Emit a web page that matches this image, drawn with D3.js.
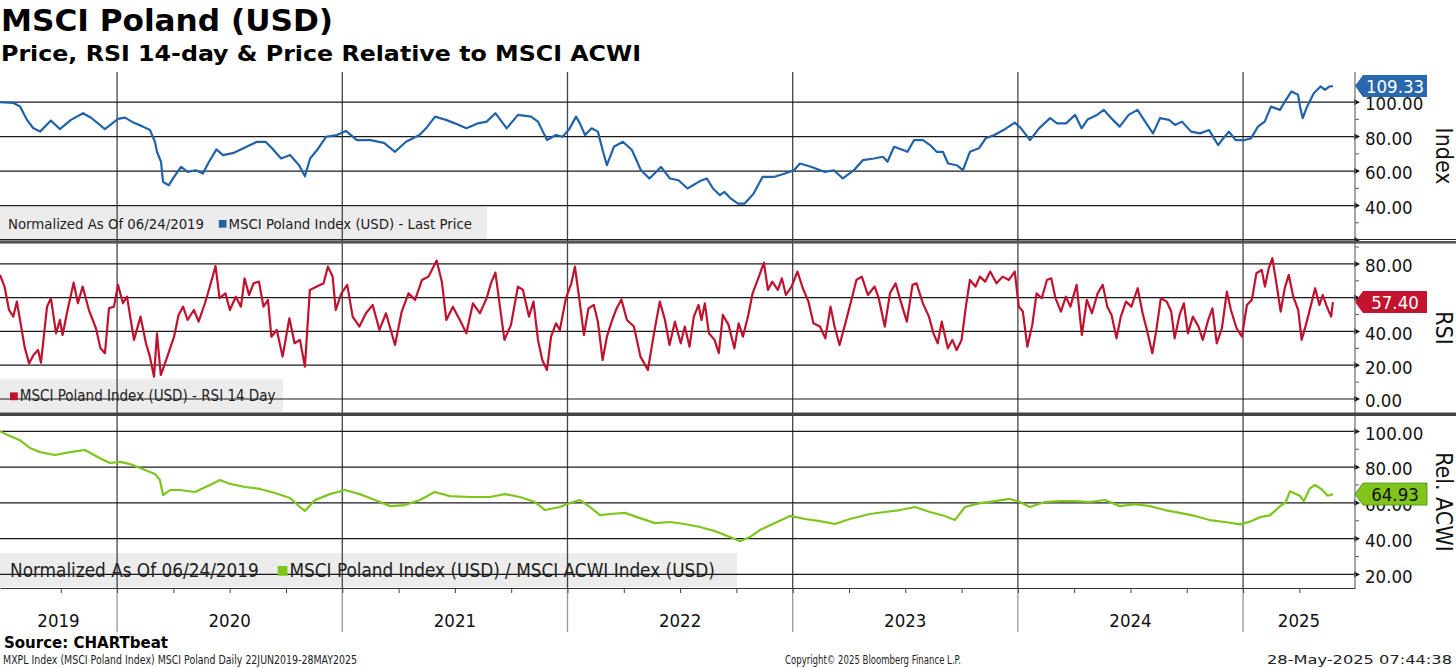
<!DOCTYPE html>
<html>
<head>
<meta charset="utf-8">
<script src="https://d3js.org/d3.v7.min.js"></script>
<style>
  body { margin: 0; background: #fff; }
  svg { display: block; }
  text { font-family: "DejaVu Sans Condensed", "DejaVu Sans", sans-serif; }
</style>
</head>
<body>
<svg id="chart" width="1456" height="668"></svg>
<script>
// time is in decimal years
var price = [
  [2019.480,100],[2019.538,99.6],[2019.569,97.5],[2019.600,89.7],[2019.627,85],[2019.658,82.9],
  [2019.706,89.3],[2019.746,84.4],[2019.795,89.7],[2019.849,93.6],[2019.886,90.8],[2019.946,84.4],
  [2020.004,90.3],[2020.035,91],[2020.075,88],[2020.115,85.8],[2020.146,83.8],[2020.168,77],
  [2020.177,71.2],[2020.195,65.4],[2020.204,53.7],[2020.230,51.8],[2020.253,56.6],[2020.284,62.4],
  [2020.313,59.5],[2020.350,60.5],[2020.381,58.6],[2020.404,64.4],[2020.441,72.6],[2020.470,69.3],
  [2020.519,70.6],[2020.570,73.8],[2020.621,77],[2020.659,77],[2020.688,73.2],[2020.728,67.3],
  [2020.768,69.3],[2020.808,63.4],[2020.834,57],[2020.857,67.3],[2020.888,72.2],[2020.928,79.9],
  [2020.976,80.9],[2021.016,83.3],[2021.065,78],[2021.125,78],[2021.185,76.4],[2021.234,71.2],
  [2021.283,77],[2021.343,80.9],[2021.372,84.8],[2021.412,91.6],[2021.460,89.7],[2021.500,87.7],
  [2021.551,84.8],[2021.603,87.7],[2021.641,88.7],[2021.680,93.6],[2021.730,84.8],[2021.780,92.6],
  [2021.838,91.6],[2021.869,88.7],[2021.909,78],[2021.949,80.9],[2021.978,79.9],[2022.007,84.2],
  [2022.038,91.6],[2022.055,87.7],[2022.078,80.9],[2022.107,84.8],[2022.135,82.9],[2022.158,71.2],
  [2022.175,63.4],[2022.206,74.1],[2022.246,77],[2022.286,72.2],[2022.326,60.5],[2022.364,55.7],
  [2022.415,62.4],[2022.455,55.7],[2022.493,54.7],[2022.533,49.9],[2022.588,54.2],[2022.619,55.7],
  [2022.646,49.9],[2022.677,46],[2022.697,47.9],[2022.726,44],[2022.757,41.1],[2022.786,41.1],
  [2022.826,46.9],[2022.866,56.6],[2022.916,56.6],[2022.966,58.6],[2023.006,60.5],[2023.032,64.4],
  [2023.084,62.4],[2023.143,59.5],[2023.183,60.5],[2023.223,55.7],[2023.272,60.5],[2023.312,66.4],
  [2023.361,67.3],[2023.401,68.3],[2023.421,65.4],[2023.450,74.1],[2023.490,72.2],[2023.510,71.2],
  [2023.539,78],[2023.579,78],[2023.610,75.1],[2023.639,71.2],[2023.667,71.2],[2023.690,64.4],
  [2023.728,63.4],[2023.756,60.5],[2023.787,71.2],[2023.827,73.2],[2023.857,79],[2023.896,80.9],
  [2023.936,83.8],[2023.986,88.1],[2024.014,84.8],[2024.054,78],[2024.094,84.8],[2024.143,90.7],
  [2024.174,87.7],[2024.214,87.7],[2024.254,92.6],[2024.283,84.8],[2024.311,90.1],[2024.351,92.6],
  [2024.382,95.5],[2024.422,89.7],[2024.452,85.8],[2024.492,92.6],[2024.531,95.5],[2024.560,89.7],
  [2024.600,81.9],[2024.631,90.7],[2024.671,89.7],[2024.698,86.8],[2024.729,88.7],[2024.769,82.9],
  [2024.809,81.9],[2024.849,83.8],[2024.889,75.1],[2024.906,78],[2024.937,82.9],[2024.967,78],
  [2025.007,78],[2025.035,79],[2025.066,85.8],[2025.096,88.7],[2025.124,97.4],[2025.164,95.5],
  [2025.186,100.4],[2025.215,106.2],[2025.244,104.3],[2025.253,97.4],[2025.265,90.7],[2025.284,97.4],
  [2025.314,105.2],[2025.344,109.1],[2025.364,107.2],[2025.384,109.1],[2025.399,109.33]
];

var rsi = [
  [2019.480,73.5],[2019.500,66.6],[2019.520,52.7],[2019.539,48.8],[2019.555,57.7],[2019.569,46.8],
  [2019.589,31],[2019.609,21.1],[2019.629,26],[2019.649,29],[2019.662,21.5],[2019.689,54.7],
  [2019.706,59.7],[2019.729,38.9],[2019.746,46.8],[2019.758,37.9],[2019.777,50.8],[2019.807,68.9],
  [2019.826,56.7],[2019.847,66.6],[2019.875,52.7],[2019.906,41.9],[2019.926,30],[2019.946,27.1],
  [2019.964,53.7],[2019.986,54.7],[2020.004,67.6],[2020.026,56.7],[2020.044,60.6],[2020.075,35],
  [2020.104,48.8],[2020.128,33],[2020.144,26],[2020.164,13.2],[2020.177,38.9],[2020.194,14.2],
  [2020.223,25.1],[2020.253,36.9],[2020.273,49.8],[2020.293,54.7],[2020.313,46.8],[2020.341,52.7],
  [2020.362,45.8],[2020.390,56.7],[2020.412,66.6],[2020.437,78.8],[2020.455,59.7],[2020.481,62.6],
  [2020.501,52.7],[2020.527,60.6],[2020.550,54.7],[2020.566,71.5],[2020.586,61.6],[2020.606,68.5],
  [2020.630,69.5],[2020.650,54.7],[2020.670,58.7],[2020.685,36.9],[2020.709,40.9],[2020.735,25.1],
  [2020.765,47.8],[2020.788,33],[2020.812,35],[2020.834,19.2],[2020.856,64.6],[2020.887,66.6],
  [2020.917,68.5],[2020.936,78.4],[2020.957,72.5],[2020.971,52.7],[2020.996,62.6],[2021.022,67.6],
  [2021.046,48.8],[2021.076,42.9],[2021.105,50.8],[2021.135,55.7],[2021.165,40.9],[2021.194,50.8],
  [2021.234,32],[2021.264,51.8],[2021.294,62.6],[2021.323,58.7],[2021.354,70.5],[2021.383,72.5],
  [2021.419,82],[2021.442,69.5],[2021.462,46.8],[2021.491,54.7],[2021.522,46.8],[2021.551,38.9],
  [2021.580,56.7],[2021.611,50.8],[2021.641,59.7],[2021.660,68.5],[2021.680,74.9],[2021.700,54.7],
  [2021.720,35],[2021.749,43.9],[2021.780,66.6],[2021.802,64.6],[2021.829,48.8],[2021.849,57.7],
  [2021.869,35],[2021.888,23.1],[2021.909,17.2],[2021.927,36.9],[2021.949,44.8],[2021.966,40.9],
  [2021.993,59.7],[2022.017,68.5],[2022.033,78.4],[2022.053,58.7],[2022.073,37.9],[2022.093,53.7],
  [2022.117,55.7],[2022.135,45.8],[2022.156,23.1],[2022.175,36.9],[2022.196,45.8],[2022.215,52.7],
  [2022.239,59],[2022.264,46.8],[2022.295,42.9],[2022.324,25.1],[2022.357,17.2],[2022.384,38.9],
  [2022.410,57.7],[2022.433,46.8],[2022.453,32],[2022.477,45.8],[2022.503,33],[2022.521,42.9],
  [2022.542,31],[2022.561,48.8],[2022.582,55.7],[2022.595,46.8],[2022.610,56.7],[2022.628,38.9],
  [2022.653,35],[2022.672,27.1],[2022.690,49.8],[2022.715,43.9],[2022.741,30],[2022.760,44.8],
  [2022.779,36.9],[2022.803,49.8],[2022.822,62.6],[2022.850,72.5],[2022.872,80.8],[2022.890,64.6],
  [2022.909,69.5],[2022.934,64.6],[2022.952,71.5],[2022.970,61.6],[2022.995,66.6],[2023.021,75.5],
  [2023.045,65.6],[2023.070,57.7],[2023.092,44.8],[2023.121,42.9],[2023.145,35.9],[2023.168,54.7],
  [2023.186,42.9],[2023.208,32],[2023.232,43.9],[2023.257,56.7],[2023.283,70.5],[2023.307,72.5],
  [2023.334,61.6],[2023.364,66.6],[2023.382,59.7],[2023.409,42.9],[2023.432,62.6],[2023.457,68.5],
  [2023.480,57.7],[2023.507,45.8],[2023.532,67.6],[2023.550,68.5],[2023.578,56.7],[2023.605,48.8],
  [2023.625,38.9],[2023.644,33],[2023.662,45.8],[2023.689,30],[2023.709,35],[2023.728,29],
  [2023.750,35],[2023.769,54.7],[2023.787,70.5],[2023.812,66.6],[2023.831,72.5],[2023.855,69.5],
  [2023.877,75.5],[2023.905,68.5],[2023.933,72.5],[2023.960,70.5],[2023.986,75.5],[2024.004,54.7],
  [2024.022,51.8],[2024.042,31],[2024.064,43.9],[2024.083,62.6],[2024.106,59.7],[2024.129,70.5],
  [2024.148,71.5],[2024.167,59.7],[2024.191,51.8],[2024.213,60.6],[2024.233,54.7],[2024.261,67.6],
  [2024.284,37.9],[2024.306,58.7],[2024.329,50.8],[2024.354,62.6],[2024.377,67.6],[2024.397,54.7],
  [2024.416,49.8],[2024.438,35.9],[2024.457,48.8],[2024.480,57.7],[2024.504,54.7],[2024.532,65.6],
  [2024.554,50.8],[2024.573,40.9],[2024.597,27.1],[2024.615,40.9],[2024.635,59.7],[2024.661,57.7],
  [2024.681,51.8],[2024.696,35.9],[2024.718,49.8],[2024.737,56.7],[2024.755,38.9],[2024.777,48.8],
  [2024.802,42.9],[2024.821,35],[2024.845,46.8],[2024.864,53.7],[2024.883,33],[2024.906,41.9],
  [2024.928,63.6],[2024.946,52.7],[2024.971,41.9],[2024.995,36.9],[2025.017,55.7],[2025.039,58.7],
  [2025.059,74.5],[2025.083,76.4],[2025.097,66.6],[2025.114,77.4],[2025.130,83.4],[2025.148,68.5],
  [2025.167,51.8],[2025.185,65.6],[2025.203,73.5],[2025.223,60.6],[2025.245,52.7],[2025.260,35],
  [2025.279,43.9],[2025.296,52.7],[2025.320,65.6],[2025.339,55.7],[2025.354,61.6],[2025.372,54.7],
  [2025.391,48.8],[2025.399,57.4]
];

var rel = [
  [2019.480,100],[2019.524,97.4],[2019.569,95],[2019.613,90.7],[2019.658,88.4],[2019.724,86.8],
  [2019.791,88.4],[2019.857,89.6],[2019.924,85],[2019.968,82.3],[2020.013,82.9],[2020.057,81.7],
  [2020.124,78.4],[2020.168,76.2],[2020.190,72.8],[2020.204,64.4],[2020.235,67.2],[2020.279,67.2],
  [2020.346,66.1],[2020.412,70],[2020.457,72.8],[2020.501,70.6],[2020.568,68.9],[2020.634,67.8],
  [2020.701,65.5],[2020.768,62.7],[2020.812,57.7],[2020.834,55.5],[2020.879,61.6],[2020.945,64.9],
  [2021.012,67.2],[2021.078,64.9],[2021.145,61.6],[2021.212,58.2],[2021.278,58.8],[2021.345,61.6],
  [2021.411,66.1],[2021.478,63.8],[2021.567,63.3],[2021.656,63.3],[2021.722,64.9],[2021.789,63.3],
  [2021.855,60.5],[2021.900,56],[2021.966,57.7],[2022.011,59.9],[2022.055,61.6],[2022.100,57.7],
  [2022.144,53.2],[2022.188,53.8],[2022.255,54.4],[2022.322,51.5],[2022.388,48.7],[2022.455,49.3],
  [2022.521,48.2],[2022.588,46.5],[2022.655,44.2],[2022.721,40.9],[2022.766,38.6],[2022.810,40.9],
  [2022.854,44.8],[2022.921,48.7],[2022.988,52.7],[2023.054,51],[2023.121,49.8],[2023.187,48.2],
  [2023.254,51],[2023.343,53.8],[2023.409,54.9],[2023.476,56],[2023.543,57.7],[2023.609,54.9],
  [2023.676,52.7],[2023.720,50.4],[2023.765,57.7],[2023.831,59.9],[2023.898,61],[2023.964,62.2],
  [2024.009,60.5],[2024.053,57.7],[2024.120,60.5],[2024.186,61],[2024.253,61],[2024.320,60.5],
  [2024.386,61.6],[2024.453,58.2],[2024.519,59.3],[2024.586,58.2],[2024.653,56],[2024.719,54.4],
  [2024.786,52.7],[2024.852,50.4],[2024.919,49.3],[2024.986,48],[2025.030,49.5],[2025.074,52],
  [2025.119,53],[2025.163,58],[2025.190,60.5],[2025.208,66.5],[2025.252,64],[2025.270,61],
  [2025.296,68],[2025.319,70],[2025.350,67.5],[2025.376,64],[2025.399,64.93]
];

var yearLabels = ["2019", "2020", "2021", "2022", "2023", "2024", "2025"];
var yearStarts = [2020, 2021, 2022, 2023, 2024, 2025];
var quarterTicks = [2019.75, 2020, 2020.25, 2020.5, 2020.75, 2021, 2021.25, 2021.5, 2021.75,
  2022, 2022.25, 2022.5, 2022.75, 2023, 2023.25, 2023.5, 2023.75, 2024, 2024.25, 2024.5,
  2024.75, 2025, 2025.25];

// grid levels, and the labels that stay visible beside the value tags
var priceGrid = [20, 40, 60, 80, 100], priceTicks = [40, 60, 80, 100], priceMinor = [30, 50, 70, 90, 110];
var rsiGrid = [0, 20, 40, 60, 80], rsiTicks = [0, 20, 40, 80], rsiMinor = [10, 30, 50, 70, 90];
var relGrid = [20, 40, 60, 80, 100], relTicks = [20, 40, 60, 80, 100], relMinor = [30, 50, 70, 90];

var svg = d3.select("#chart");
var W = 1355;

var x = d3.scaleLinear().domain([2019.48, 2025.497]).range([0, W]);

var panels = [
  { data: price, top: 72, bottom: 240, domain: [20, 117.5], ticks: priceTicks, grid: priceGrid,
    minor: priceMinor, color: "#2162a8", tag: "#2a68ad", tagText: "#fff", last: "109.33", lastV: 109.33,
    title: "Index", legendW: 487, legendTop: 207, fs: 14.8, tx: 8,
    parts: ["Normalized As Of 06/24/2019", "MSCI Poland Index (USD) - Last Price"] },
  { data: rsi, top: 243, bottom: 413, domain: [-8.3, 92.4], ticks: rsiTicks, grid: rsiGrid,
    minor: rsiMinor, color: "#c0122e", tag: "#c4132f", tagText: "#fff", last: "57.40", lastV: 57.4,
    title: "RSI", legendW: 283, legendTop: 379, fs: 15, tx: 8,
    parts: [null, "MSCI Poland Index (USD) - RSI 14 Day"] },
  { data: rel, top: 416, bottom: 588, domain: [12.4, 108.6], ticks: relTicks, grid: relGrid,
    minor: relMinor, color: "#7cc61e", tag: "#80c41c", tagText: "#111", last: "64.93", lastV: 64.93,
    title: "Rel. ACWI", legendW: 737, legendTop: 553, fs: 18.8, tx: 10,
    parts: ["Normalized As Of 06/24/2019", "MSCI Poland Index (USD) / MSCI ACWI Index (USD)"] }
];

// legend boxes under the grid
panels.forEach(function(p) {
  svg.append("rect").attr("x", 0).attr("y", p.legendTop)
    .attr("width", p.legendW).attr("height", p.bottom - p.legendTop - 1)
    .attr("fill", "#ececec");
});

// vertical year separators
svg.selectAll(".yr").data(yearStarts).enter().append("line")
  .attr("x1", function(d) { return x(d); }).attr("x2", function(d) { return x(d); })
  .attr("y1", 72).attr("y2", 588).attr("stroke", "#444").attr("stroke-width", 1.3);
svg.selectAll(".yrb").data(yearStarts).enter().append("line")
  .attr("x1", function(d) { return x(d); }).attr("x2", function(d) { return x(d); })
  .attr("y1", 588).attr("y2", 632).attr("stroke", "#999").attr("stroke-width", 1.3);

panels.forEach(function(p, i) {
  var y = d3.scaleLinear().domain(p.domain).range([p.bottom, p.top]);

  // gridlines
  svg.append("g").selectAll("line").data(p.grid).enter().append("line")
    .attr("x1", 0).attr("x2", W)
    .attr("y1", function(d) { return y(d); }).attr("y2", function(d) { return y(d); })
    .attr("stroke", "#1a1a1a").attr("stroke-width", 1.2);

  // legend text
  var lg = svg.append("g");
  var base = p.bottom - (p.bottom - p.legendTop) / 2 + p.fs * 0.36;
  var t = lg.append("text").attr("y", base).attr("font-size", p.fs).attr("fill", "#222");
  var sqx;
  if (p.parts[0]) {
    t.attr("x", p.tx).text(p.parts[0]);
    var w = t.node().getComputedTextLength();
    sqx = p.tx + w + p.fs * 1.0;
  } else {
    t.remove();
    sqx = 10;
  }
  var sq = p.fs * 0.52;
  lg.append("rect").attr("x", sqx).attr("y", base - sq - p.fs * 0.08)
    .attr("width", sq).attr("height", sq).attr("fill", p.color);
  lg.append("text").attr("x", sqx + sq + 2).attr("y", base)
    .attr("font-size", p.fs).attr("fill", "#222").text(p.parts[1]);

  // clip + line
  svg.append("clipPath").attr("id", "clip" + i).append("rect")
    .attr("x", 0).attr("y", p.top).attr("width", W).attr("height", p.bottom - p.top);
  var line = d3.line()
    .x(function(d) { return x(d[0]); })
    .y(function(d) { return y(d[1]); });
  svg.append("path").datum(p.data)
    .attr("clip-path", "url(#clip" + i + ")")
    .attr("fill", "none").attr("stroke", p.color).attr("stroke-width", 2.2)
    .attr("stroke-linejoin", "round").attr("d", line);

  // right axis labels
  var ax = svg.append("g").attr("transform", "translate(" + W + ",0)")
    .call(d3.axisRight(y).tickValues(p.ticks).tickFormat(d3.format(".2f")).tickSize(0).tickPadding(10));
  ax.select(".domain").remove();
  ax.selectAll("text").attr("font-size", 18.5).attr("fill", "#111")
    .attr("font-family", "'DejaVu Sans Condensed', 'DejaVu Sans', sans-serif")
    .attr("dy", "0.42em");

  // arrow marks on major ticks
  svg.append("g").selectAll("path").data(p.grid).enter().append("path")
    .attr("d", function(d) { var yy = y(d); return "M" + (W - 1) + "," + (yy - 3.2) + "L" + (W + 5) + "," + yy + "L" + (W - 1) + "," + (yy + 3.2) + "Z"; })
    .attr("fill", "#111");
  // minor ticks
  svg.append("g").selectAll("line").data(p.minor).enter().append("line")
    .attr("x1", W).attr("x2", W + 4)
    .attr("y1", function(d) { return y(d); }).attr("y2", function(d) { return y(d); })
    .attr("stroke", "#555").attr("stroke-width", 1);

  // axis title
  var cy = (p.top + p.bottom) / 2;
  svg.append("text").attr("transform", "translate(1436," + cy + ") rotate(90)")
    .attr("text-anchor", "middle").attr("font-size", 23).attr("fill", "#111")
    .text(p.title);

  // last value tag (sits over the axis label, as in the original)
  var ly = y(p.lastV), h = 11;
  svg.append("path")
    .attr("d", "M" + W + "," + ly + "L" + (W + 8) + "," + (ly - h) + "L" + (W + 72) + "," + (ly - h) +
      "L" + (W + 72) + "," + (ly + h) + "L" + (W + 8) + "," + (ly + h) + "Z")
    .attr("fill", p.tag).attr("stroke", p.tag === "#80c41c" ? "#4c8a10" : "none").attr("stroke-width", 0.8);
  svg.append("text").attr("x", W + 40).attr("y", ly + 7)
    .attr("text-anchor", "middle").attr("font-size", 18.5).attr("fill", p.tagText)
    .text(p.last);
});

// right axis line
svg.append("line").attr("x1", W).attr("x2", W).attr("y1", 72).attr("y2", 588)
  .attr("stroke", "#777").attr("stroke-width", 1.3);

// panel separators
svg.append("line").attr("x1", 0).attr("x2", 1456).attr("y1", 239.5).attr("y2", 239.5)
  .attr("stroke", "#222").attr("stroke-width", 1.2);
svg.append("rect").attr("x", 0).attr("y", 241).attr("width", 1456).attr("height", 2.6).attr("fill", "#555");
svg.append("rect").attr("x", 0).attr("y", 412.5).attr("width", 1456).attr("height", 3.5).attr("fill", "#444");

// bottom time axis
var xa = svg.append("g").attr("transform", "translate(0,588)")
  .call(d3.axisBottom(x).tickValues(quarterTicks).tickFormat("").tickSize(5).tickSizeOuter(0));
xa.select(".domain").attr("stroke", "#333").attr("stroke-width", 1.2);
xa.selectAll(".tick line").attr("stroke", "#444");

var bounds = [x.domain()[0]].concat(yearStarts).concat([x.domain()[1]]);
svg.selectAll(".ylab").data(yearLabels).enter().append("text")
  .attr("x", function(d, i) { return (x(bounds[i]) + x(bounds[i + 1])) / 2; })
  .attr("y", 627).attr("text-anchor", "middle").attr("font-size", 18.5).attr("fill", "#111")
  .text(function(d) { return d; });

// titles
svg.append("text").attr("x", 1).attr("y", 31).attr("font-family", "'DejaVu Sans', sans-serif")
  .attr("font-weight", "bold").attr("font-size", 30).attr("textLength", 332)
  .attr("lengthAdjust", "spacingAndGlyphs").attr("fill", "#000").text("MSCI Poland (USD)");
svg.append("text").attr("x", 1).attr("y", 61).attr("font-family", "'DejaVu Sans', sans-serif")
  .attr("font-weight", "bold").attr("font-size", 22).attr("textLength", 640)
  .attr("lengthAdjust", "spacingAndGlyphs").attr("fill", "#000")
  .text("Price, RSI 14-day & Price Relative to MSCI ACWI");

// footer
svg.append("text").attr("x", 4).attr("y", 648).attr("font-family", "'DejaVu Sans', sans-serif")
  .attr("font-weight", "bold").attr("font-size", 15).attr("textLength", 164)
  .attr("lengthAdjust", "spacingAndGlyphs").attr("fill", "#000").text("Source: CHARTbeat");
svg.append("text").attr("x", 3).attr("y", 664).attr("font-size", 11.5).attr("textLength", 354)
  .attr("lengthAdjust", "spacingAndGlyphs").attr("fill", "#222")
  .text("MXPL Index (MSCI Poland Index) MSCI Poland  Daily 22JUN2019-28MAY2025");
svg.append("text").attr("x", 785).attr("y", 664).attr("font-size", 11.5).attr("textLength", 176)
  .attr("lengthAdjust", "spacingAndGlyphs").attr("fill", "#222")
  .text("Copyright\u00a9 2025 Bloomberg Finance L.P.");
svg.append("text").attr("x", 1267).attr("y", 664).attr("font-size", 11.5).attr("textLength", 185)
  .attr("lengthAdjust", "spacingAndGlyphs").attr("fill", "#222")
  .text("28-May-2025 07:44:38");
</script>
</body>
</html>
